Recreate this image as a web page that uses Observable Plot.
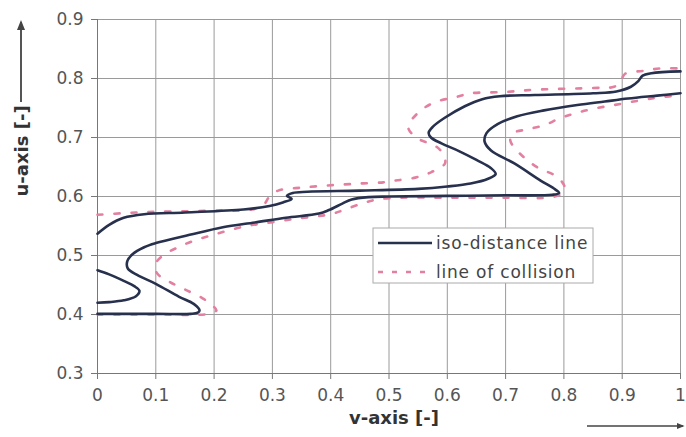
<!DOCTYPE html>
<html>
<head>
<meta charset="utf-8">
<script src="https://cdn.jsdelivr.net/npm/d3@7"></script>
<script src="https://cdn.jsdelivr.net/npm/@observablehq/plot@0.6"></script>
<style>
  html, body { margin: 0; padding: 0; background: #fff; }
  #chart { width: 686px; height: 437px; }
</style>
</head>
<body>
<div id="chart"></div>
<script>
// ---- data (v, u) ----
const isoUpper = [
  [0, 0.537], [0.02, 0.552], [0.045, 0.564], [0.08, 0.570], [0.15, 0.573], [0.25, 0.578],
  [0.295, 0.584], [0.318, 0.590], [0.333, 0.596], [0.325, 0.601], [0.335, 0.606], [0.36, 0.608],
  [0.45, 0.610], [0.55, 0.613], [0.60, 0.617], [0.64, 0.622], [0.67, 0.630], [0.683, 0.638],
  [0.675, 0.648], [0.65, 0.662], [0.62, 0.677], [0.59, 0.690], [0.572, 0.700], [0.568, 0.708],
  [0.575, 0.718], [0.595, 0.733], [0.63, 0.753], [0.66, 0.765], [0.69, 0.770], [0.75, 0.772],
  [0.85, 0.775], [0.89, 0.778], [0.915, 0.786], [0.928, 0.796], [0.935, 0.805], [0.95, 0.809],
  [1.0, 0.812]
];
const isoLoop = [
  [0, 0.475], [0.02, 0.468], [0.045, 0.457], [0.063, 0.448], [0.072, 0.440], [0.066, 0.431],
  [0.045, 0.424], [0.02, 0.421], [0, 0.420]
];
const isoLower = [
  [0, 0.401], [0.10, 0.401], [0.16, 0.401], [0.172, 0.403], [0.175, 0.407], [0.165, 0.418],
  [0.14, 0.430], [0.10, 0.452], [0.068, 0.467], [0.052, 0.478], [0.051, 0.490], [0.06, 0.502],
  [0.08, 0.514], [0.10, 0.521], [0.158, 0.535], [0.215, 0.548], [0.27, 0.556], [0.323, 0.564],
  [0.38, 0.571], [0.397, 0.577], [0.42, 0.588], [0.436, 0.595], [0.465, 0.599], [0.50, 0.600],
  [0.60, 0.601], [0.70, 0.602], [0.78, 0.603], [0.792, 0.606], [0.785, 0.612], [0.76, 0.627],
  [0.715, 0.656], [0.675, 0.678], [0.664, 0.693], [0.667, 0.707], [0.687, 0.723], [0.72, 0.736],
  [0.766, 0.746], [0.823, 0.755], [0.87, 0.761], [0.91, 0.766], [0.96, 0.771], [1.0, 0.775]
];
const collisionUpper = [
  [0, 0.569], [0.05, 0.572], [0.1, 0.574], [0.2, 0.576], [0.265, 0.578], [0.285, 0.586],
  [0.295, 0.600], [0.31, 0.610], [0.35, 0.615], [0.4, 0.619], [0.45, 0.622], [0.49, 0.624],
  [0.511, 0.627], [0.545, 0.632], [0.572, 0.641], [0.596, 0.656], [0.593, 0.672], [0.579, 0.686],
  [0.55, 0.698], [0.533, 0.717], [0.55, 0.742], [0.579, 0.760], [0.613, 0.768], [0.641, 0.775],
  [0.698, 0.777], [0.75, 0.781], [0.85, 0.784], [0.886, 0.786], [0.897, 0.795], [0.905, 0.808],
  [0.937, 0.813], [0.965, 0.817], [1.0, 0.817]
];
const collisionLower = [
  [0, 0.400], [0.1, 0.400], [0.19, 0.401], [0.204, 0.407], [0.195, 0.417], [0.181, 0.427],
  [0.153, 0.441], [0.124, 0.455], [0.102, 0.470], [0.100, 0.486], [0.112, 0.500], [0.136, 0.513],
  [0.165, 0.525], [0.195, 0.534], [0.223, 0.542], [0.255, 0.550], [0.283, 0.554], [0.317, 0.559],
  [0.346, 0.563], [0.40, 0.570], [0.422, 0.577], [0.453, 0.588], [0.48, 0.595], [0.52, 0.598],
  [0.6, 0.598], [0.7, 0.598], [0.78, 0.599], [0.798, 0.606], [0.802, 0.614], [0.789, 0.633],
  [0.755, 0.649], [0.732, 0.666], [0.715, 0.683], [0.708, 0.695], [0.712, 0.707], [0.738, 0.714],
  [0.767, 0.721], [0.794, 0.733], [0.823, 0.742], [0.852, 0.749], [0.886, 0.755], [0.937, 0.764],
  [0.965, 0.768], [1.0, 0.772]
];
const xTicks = [0, 0.1, 0.2, 0.3, 0.4, 0.5, 0.6, 0.7, 0.8, 0.9, 1];
const yTicks = [0.3, 0.4, 0.5, 0.6, 0.7, 0.8, 0.9];
const xTickLabels = ["0", "0.1", "0.2", "0.3", "0.4", "0.5", "0.6", "0.7", "0.8", "0.9", "1"];
const yTickLabels = ["0.3", "0.4", "0.5", "0.6", "0.7", "0.8", "0.9"];
const seriesNames = ["iso-distance line", "line of collision"];
const xTitle = "v-axis [-]";
const yTitle = "u-axis [-]";

// ---- build tables ----
const isoColor = "#27304d";
const colColor = "#e3809f";
function rows(arr, branch) { return arr.map(([v, u]) => ({v, u, branch})); }
const isoData = [...rows(isoUpper, "a"), ...rows(isoLoop, "b"), ...rows(isoLower, "c")];
const colData = [...rows(collisionUpper, "a"), ...rows(collisionLower, "b")];

const W = 686, H = 437;
const chart = Plot.plot({
  width: W, height: H,
  marginLeft: 97, marginRight: 6, marginTop: 19, marginBottom: 64,
  style: {fontFamily: "'DejaVu Sans', Verdana, sans-serif", fontSize: "17px", color: "#555", background: "#fff"},
  x: {domain: [0, 1]},
  y: {domain: [0.3, 0.9]},
  marks: [
    Plot.gridX(xTicks, {stroke: "#9a9a9a", strokeOpacity: 1}),
    Plot.gridY(yTicks, {stroke: "#9a9a9a", strokeOpacity: 1}),
    Plot.ruleX([0], {stroke: "#777"}),
    Plot.ruleY([0.3], {stroke: "#777"}),
    Plot.axisX(xTicks, {tickSize: 6, tickPadding: 9, label: null, stroke: "#777",
      tickFormat: d => xTickLabels[xTicks.indexOf(d)]}),
    Plot.axisY(yTicks, {tickSize: 6, tickPadding: 8, label: null, stroke: "#777",
      tickFormat: d => yTickLabels[yTicks.indexOf(d)]}),
    Plot.line(colData, {x: "v", y: "u", z: "branch", stroke: colColor, strokeWidth: 2.6,
      strokeDasharray: "5,12", curve: "catmull-rom"}),
    Plot.line(isoData, {x: "v", y: "u", z: "branch", stroke: isoColor, strokeWidth: 2.6,
      curve: "catmull-rom"}),
    Plot.text([xTitle], {frameAnchor: "bottom", dy: 50, text: d => d, fontWeight: "bold",
      fontSize: 18, fill: "#333", dx: 5}),
    Plot.text([yTitle], {frameAnchor: "left", dx: -75, rotate: -90, text: d => d, fontWeight: "bold",
      fontSize: 18, fill: "#333"})
  ]
});
document.getElementById("chart").appendChild(chart);

// ---- decorations: axis arrows and legend ----
const svg = d3.select(chart);
const defs = svg.append("defs");
defs.append("marker").attr("id", "ah").attr("viewBox", "0 0 10 10").attr("refX", 8).attr("refY", 5)
  .attr("markerWidth", 5).attr("markerHeight", 5).attr("orient", "auto")
  .append("path").attr("d", "M0,1L10,5L0,9z").attr("fill", "#444");
svg.append("line").attr("x1", 21).attr("y1", 102).attr("x2", 21).attr("y2", 22)
  .attr("stroke", "#555").attr("stroke-width", 2).attr("marker-end", "url(#ah)");
svg.append("line").attr("x1", 587).attr("y1", 426).attr("x2", 683).attr("y2", 426)
  .attr("stroke", "#444").attr("stroke-width", 1.6).attr("marker-end", "url(#ah)");

const lg = svg.append("g").attr("transform", "translate(373,228)");
lg.append("rect").attr("width", 220).attr("height", 55).attr("fill", "#fff").attr("stroke", "#aaa");
const styles = [{stroke: isoColor, dash: null, w: 2.6}, {stroke: colColor, dash: "5,9", w: 2.6}];
seriesNames.forEach((name, i) => {
  const y = 15 + i * 29;
  lg.append("line").attr("x1", 5).attr("x2", 59).attr("y1", y).attr("y2", y)
    .attr("stroke", styles[i].stroke).attr("stroke-width", styles[i].w)
    .attr("stroke-dasharray", styles[i].dash);
  lg.append("text").attr("x", 63).attr("y", y).attr("dy", "0.35em")
    .attr("text-anchor", "start").attr("letter-spacing", "0.8px")
    .attr("font-family", "'DejaVu Sans', Verdana, sans-serif").attr("font-size", 17)
    .attr("fill", "#444").text(name);
});
</script>
</body>
</html>
